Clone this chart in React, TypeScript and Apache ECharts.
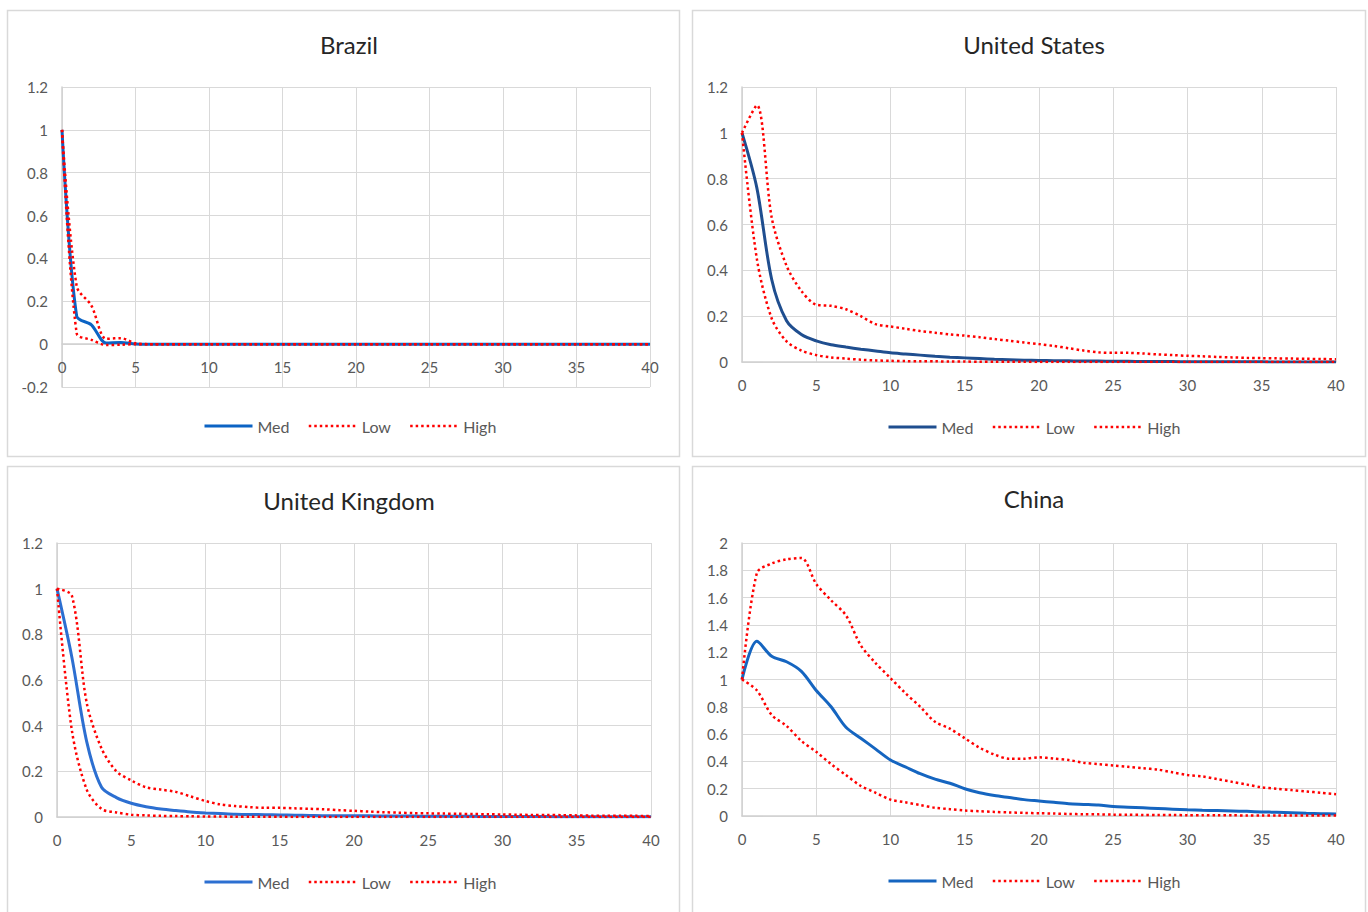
import React, { useEffect, useRef } from "react";
import * as echarts from "echarts";

// Horizons 0..40
const HORIZON = [
  0, 1, 2, 3, 4, 5, 6, 7, 8, 9, 10, 11, 12, 13, 14, 15, 16, 17, 18, 19, 20,
  21, 22, 23, 24, 25, 26, 27, 28, 29, 30, 31, 32, 33, 34, 35, 36, 37, 38, 39, 40,
];

const SERIES_NAMES = ["Med", "Low", "High"];
const TITLES = ["Brazil", "United States", "United Kingdom", "China"];

// Brazil
const brMed = [
  1, 0.13, 0.09, 0.005, 0.008, 0.001, 0, 0, 0, 0, 0, 0, 0, 0, 0, 0, 0, 0, 0, 0, 0,
  0, 0, 0, 0, 0, 0, 0, 0, 0, 0, 0, 0, 0, 0, 0, 0, 0, 0, 0, 0,
];
const brLow = [
  1, 0.05, 0.02, -0.004, -0.003, 0, 0, 0, 0, 0, 0, 0, 0, 0, 0, 0, 0, 0, 0, 0, 0,
  0, 0, 0, 0, 0, 0, 0, 0, 0, 0, 0, 0, 0, 0, 0, 0, 0, 0, 0, 0,
];
const brHigh = [
  1, 0.27, 0.18, 0.025, 0.028, 0.004, 0, 0, 0, 0, 0, 0, 0, 0, 0, 0, 0, 0, 0, 0, 0,
  0, 0, 0, 0, 0, 0, 0, 0, 0, 0, 0, 0, 0, 0, 0, 0, 0, 0, 0, 0,
];

// United States
const usMed = [
  1, 0.76, 0.36, 0.18, 0.12, 0.092, 0.075, 0.065, 0.056, 0.048, 0.04, 0.035, 0.03,
  0.025, 0.021, 0.018, 0.015, 0.012, 0.01, 0.008, 0.007, 0.006, 0.005, 0.004,
  0.004, 0.003, 0.003, 0.002, 0.002, 0.002, 0.001, 0.001, 0.001, 0.001, 0.001,
  0.001, 0, 0, 0, 0, 0,
];
const usLow = [
  1, 0.45, 0.19, 0.09, 0.05, 0.03, 0.02, 0.015, 0.01, 0.007, 0.005, 0.004, 0.003,
  0.003, 0.002, 0.002, 0.001, 0.001, 0.001, 0.001, 0, 0, 0, 0, 0, 0, 0, 0, 0, 0,
  0, 0, 0, 0, 0, 0, 0, 0, 0, 0, 0,
];
const usHigh = [
  1, 1.12, 0.63, 0.42, 0.31, 0.25, 0.245, 0.23, 0.2, 0.165, 0.155, 0.145, 0.135,
  0.128, 0.12, 0.115, 0.108, 0.1, 0.093, 0.085, 0.078, 0.07, 0.06, 0.05, 0.042,
  0.04, 0.04, 0.037, 0.033, 0.03, 0.027, 0.025, 0.022, 0.02, 0.018, 0.017, 0.016,
  0.015, 0.014, 0.013, 0.012,
];

// United Kingdom
const ukMed = [
  1, 0.7, 0.33, 0.13, 0.085, 0.06, 0.045, 0.035, 0.028, 0.022, 0.018, 0.015,
  0.012, 0.011, 0.01, 0.009, 0.008, 0.007, 0.006, 0.006, 0.005, 0.005, 0.004,
  0.004, 0.004, 0.003, 0.003, 0.003, 0.003, 0.002, 0.002, 0.002, 0.002, 0.002,
  0.001, 0.001, 0.001, 0.001, 0.001, 0.001, 0.001,
];
const ukLow = [
  1, 0.38, 0.12, 0.035, 0.02, 0.01, 0.007, 0.005, 0.004, 0.003, 0.002, 0.002,
  0.001, 0.001, 0.001, 0.001, 0, 0, 0, 0, 0, 0, 0, 0, 0, 0, 0, 0, 0, 0, 0, 0, 0,
  0, 0, 0, 0, 0, 0, 0, 0,
];
const ukHigh = [
  1, 0.97, 0.5, 0.3, 0.2, 0.16, 0.13, 0.12, 0.11, 0.09, 0.07, 0.055, 0.048, 0.043,
  0.04, 0.04, 0.038, 0.036, 0.034, 0.03, 0.027, 0.024, 0.021, 0.019, 0.017, 0.016,
  0.015, 0.014, 0.013, 0.012, 0.011, 0.01, 0.009, 0.009, 0.008, 0.007, 0.006,
  0.006, 0.005, 0.005, 0.004,
];

// China
const cnMed = [
  1, 1.28, 1.17, 1.13, 1.06, 0.92, 0.8, 0.65, 0.57, 0.49, 0.41, 0.36, 0.31, 0.27,
  0.24, 0.2, 0.17, 0.15, 0.135, 0.12, 0.11, 0.1, 0.09, 0.085, 0.08, 0.07, 0.065,
  0.06, 0.055, 0.05, 0.045, 0.042, 0.04, 0.037, 0.034, 0.03, 0.027, 0.024, 0.02,
  0.017, 0.015,
];
const cnLow = [
  1, 0.92, 0.74, 0.66, 0.55, 0.47, 0.38, 0.3, 0.22, 0.17, 0.12, 0.1, 0.08, 0.06,
  0.05, 0.04, 0.035, 0.03, 0.026, 0.023, 0.02, 0.018, 0.015, 0.013, 0.012, 0.01,
  0.009, 0.008, 0.007, 0.007, 0.006, 0.006, 0.005, 0.005, 0.004, 0.004, 0.004,
  0.003, 0.003, 0.003, 0.003,
];
const cnHigh = [
  1, 1.78, 1.85, 1.88, 1.89, 1.7, 1.58, 1.47, 1.25, 1.12, 1.01, 0.9, 0.8, 0.69,
  0.64, 0.57, 0.5, 0.45, 0.42, 0.42, 0.43, 0.42, 0.41, 0.39, 0.38, 0.37, 0.36,
  0.35, 0.34, 0.32, 0.3, 0.29, 0.27, 0.25, 0.23, 0.21, 0.2, 0.19, 0.18, 0.17, 0.16,
];

const PANEL_DATA = [
  [brMed, brLow, brHigh],
  [usMed, usLow, usHigh],
  [ukMed, ukLow, ukHigh],
  [cnMed, cnLow, cnHigh],
];
const MED_COLORS = ["#0B63C4", "#1F4E8F", "#2C6FD1", "#1565C0"];
const Y_MIN = [-0.2, 0, 0, 0];
const Y_MAX = [1.2, 1.2, 1.2, 2];

// layout
const GRIDS = [
  { left: 62, top: 87, width: 588, height: 300 },
  { left: 742, top: 87, width: 594, height: 275 },
  { left: 57, top: 543, width: 594, height: 274 },
  { left: 742, top: 543, width: 594, height: 273 },
];
// pixel offset of the x-axis (drawn at value 0) above the grid bottom
const X_AXIS_OFFSET = [-43, 0, 0, 0];
const PANELS = [
  { x: 7.5, y: 10.5, w: 672, h: 446 },
  { x: 692.5, y: 10.5, w: 673, h: 446 },
  { x: 7.5, y: 466.5, w: 672, h: 450 },
  { x: 692.5, y: 466.5, w: 673, h: 450 },
];
const TITLE_POS = [
  { cx: 344, y: 27 },
  { cx: 1029, y: 27 },
  { cx: 344, y: 483 },
  { cx: 1029, y: 481 },
];
const LEGEND_POS = [
  { left: 198, top: 413 },
  { left: 882, top: 414 },
  { left: 198, top: 869 },
  { left: 882, top: 868 },
];

const FONT = "Lato, 'Open Sans', sans-serif";

export default function App() {
  const ref = useRef<HTMLDivElement>(null);
  useEffect(() => {
    if (!ref.current) return;
    const chart = echarts.init(ref.current, null, { renderer: "svg" });
    const gridLine = { lineStyle: { color: "#d9d9d9", width: 1 } };
    const hiddenSymbol = { color: "rgba(0,0,0,0)", borderWidth: 0, opacity: 0 };
    const option: any = {
      animation: false,
      backgroundColor: "#ffffff",
      textStyle: { fontFamily: FONT },
      graphic: PANELS.map((p) => ({
        type: "rect",
        shape: { x: p.x, y: p.y, width: p.w, height: p.h },
        style: { fill: "none", stroke: "#d9d9d9", lineWidth: 1.5 },
        silent: true,
        z: -1,
      })),
      title: TITLES.map((t, i) => ({
        text: t,
        left: TITLE_POS[i].cx,
        top: TITLE_POS[i].y,
        textAlign: "center",
        textStyle: { fontFamily: FONT, fontSize: 24, fontWeight: "normal", color: "#262626" },
      })),
      legend: LEGEND_POS.map((p, i) => ({
        top: p.top,
        left: p.left,
        orient: "horizontal",
        itemWidth: 48,
        itemHeight: 14,
        itemGap: 18,
        selectedMode: false,
        textStyle: { fontFamily: FONT, fontSize: 16, color: "#595959" },
        data: [
          {
            name: "Med",
            itemStyle: hiddenSymbol,
            lineStyle: { color: MED_COLORS[i], width: 3, type: "solid" },
          },
          {
            name: "Low",
            itemStyle: hiddenSymbol,
            lineStyle: { color: "#FF0000", width: 2.5, type: [2.5, 3] },
          },
          {
            name: "High",
            itemStyle: hiddenSymbol,
            lineStyle: { color: "#FF0000", width: 2.5, type: [2.5, 3] },
          },
        ],
      })),
      grid: GRIDS.map((g) => ({ ...g, containLabel: false })),
      xAxis: GRIDS.map((_, i) => ({
        type: "value",
        gridIndex: i,
        min: HORIZON[0],
        max: HORIZON[HORIZON.length - 1],
        interval: 5,
        offset: X_AXIS_OFFSET[i],
        axisLine: { show: true, onZero: false, lineStyle: { color: "#d0d0d0", width: 1.5 } },
        axisTick: { show: false },
        splitLine: { show: true, ...gridLine },
        axisLabel: { fontFamily: FONT, fontSize: 15, color: "#595959", margin: 15 },
      })),
      yAxis: GRIDS.map((_, i) => ({
        type: "value",
        gridIndex: i,
        min: Y_MIN[i],
        max: Y_MAX[i],
        interval: 0.2,
        axisLine: { show: true, onZero: false, lineStyle: { color: "#d0d0d0", width: 1.5 } },
        axisTick: { show: false },
        splitLine: { show: true, ...gridLine },
        axisLabel: {
          fontFamily: FONT,
          fontSize: 15,
          color: "#595959",
          margin: 14,
          formatter: (v: number) => String(Math.round(v * 10) / 10),
        },
      })),
      series: PANEL_DATA.flatMap((sets, i) =>
        sets.map((vals, k) => ({
          type: "line",
          name: SERIES_NAMES[k],
          xAxisIndex: i,
          yAxisIndex: i,
          data: vals.map((v, j) => [HORIZON[j], v]),
          symbol: "none",
          smooth: 0.3,
          z: k === 0 ? 3 : 4,
          lineStyle:
            k === 0
              ? { color: MED_COLORS[i], width: 3, type: "solid" }
              : { color: "#FF0000", width: 2.5, type: [2.5, 3] },
          itemStyle: { color: k === 0 ? MED_COLORS[i] : "#FF0000" },
        }))
      ),
    };
    chart.setOption(option);
    return () => chart.dispose();
  }, []);
  return (
    <div
      ref={ref}
      style={{ position: "fixed", left: 0, top: 0, width: 1368, height: 912, background: "#fff" }}
    />
  );
}
